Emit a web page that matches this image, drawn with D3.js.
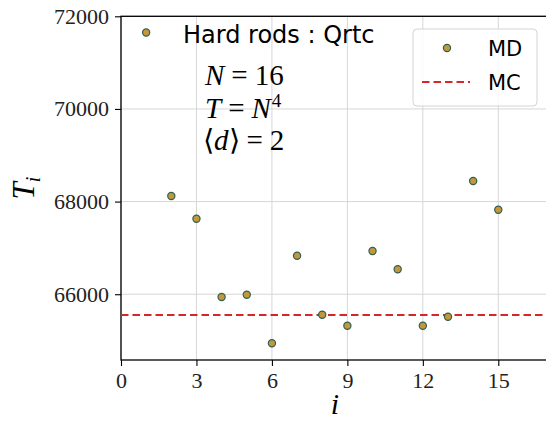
<!DOCTYPE html>
<html><head><meta charset="utf-8">
<script src="https://cdn.jsdelivr.net/npm/d3@7"></script>
<style>body{margin:0;background:#fff}svg{display:block}</style>
</head><body>
<script>
const idx = [1,2,3,4,5,6,7,8,9,10,11,12,13,14,15];
const mdValues = [71650,68120,67630,65940,65990,64940,66830,65558,65320,66933,66538,65320,65515,68444,67825];
const mcValue = 65551;
const xTicks = [0,3,6,9,12,15];
const yTicks = [66000,68000,70000,72000];
const titleText = "Hard rods : Qrtc";
const legendLabels = ["MD","MC"];

const W=546,H=425;
const L=121,T=16.3,R=548.6,B=360;
const svg=d3.select("body").append("svg").attr("width",W).attr("height",H);
const x=d3.scaleLinear().domain([0,17]).range([L,R]);
const y=d3.scaleLinear().domain([64580,72000]).range([B,T]);

const serif="'Liberation Serif','Times New Roman',serif";
const sans="'DejaVu Sans',sans-serif";

// grid
const g=svg.append("g");
g.selectAll(".vg").data(xTicks).join("line").attr("x1",d=>x(d)).attr("x2",d=>x(d)).attr("y1",T).attr("y2",B).attr("stroke","#d6d6d6").attr("stroke-width",1);
g.selectAll(".hg").data(yTicks).join("line").attr("x1",L).attr("x2",R).attr("y1",d=>y(d)).attr("y2",d=>y(d)).attr("stroke","#d6d6d6").attr("stroke-width",1);

// axes
const xAxis=svg.append("g").attr("transform",`translate(0,${B})`).call(d3.axisBottom(x).tickValues(xTicks).tickSize(6).tickPadding(6).tickFormat(d3.format("d")));
const yAxis=svg.append("g").attr("transform",`translate(${L},0)`).call(d3.axisLeft(y).tickValues(yTicks).tickSize(6).tickPadding(6).tickFormat(d=>String(d)));
[xAxis,yAxis].forEach(a=>{a.select(".domain").remove();a.selectAll("line").attr("stroke","#000").attr("stroke-width",1.1);a.selectAll("text").attr("font-family",serif).attr("font-size",22).attr("fill","#222");});
// spines
svg.append("rect").attr("x",L).attr("y",T).attr("width",R-L).attr("height",B-T).attr("fill","none").attr("stroke","#000").attr("stroke-width",1.3);

// MC line
svg.append("line").attr("x1",L).attr("x2",R).attr("y1",y(mcValue)).attr("y2",y(mcValue)).attr("stroke","#d62728").attr("stroke-width",2).attr("stroke-dasharray","7.5,4");

// points
svg.selectAll(".pt").data(idx).join("circle").attr("cx",d=>x(d)).attr("cy",(d,i)=>y(mdValues[i])).attr("r",3.6).attr("fill","#c4983a").attr("stroke","#2f6050").attr("stroke-width",1.2);

// title text
svg.append("text").attr("x",183).attr("y",43).attr("font-family",sans).attr("font-size",24).attr("fill","#000").text(titleText);

// math text
const mt=svg.append("g").attr("font-family",serif).attr("font-size",29).attr("fill","#000");
const t1=mt.append("text").attr("x",205).attr("y",85);
t1.append("tspan").attr("font-style","italic").text("N");
t1.append("tspan").attr("dx",7).text("=");
t1.append("tspan").attr("dx",7).text("16");
const t2=mt.append("text").attr("x",205).attr("y",118);
t2.append("tspan").attr("font-style","italic").text("T");
t2.append("tspan").attr("dx",7).text("=");
t2.append("tspan").attr("dx",7).attr("font-style","italic").text("N");
t2.append("tspan").attr("font-size",19).attr("dy",-11).attr("dx",1).text("4");
const t3=mt.append("text").attr("x",203).attr("y",150);
t3.append("tspan").text("\u27E8");
t3.append("tspan").attr("font-style","italic").text("d");
t3.append("tspan").text("\u27E9");
t3.append("tspan").attr("dx",7).text("=");
t3.append("tspan").attr("dx",7).text("2");

// legend
const lg=svg.append("g");
lg.append("rect").attr("x",413).attr("y",29).attr("width",124).attr("height",77).attr("rx",4).attr("fill","#fff").attr("fill-opacity",0.85).attr("stroke","#d4d4d4").attr("stroke-width",1);
lg.append("circle").attr("cx",447).attr("cy",48).attr("r",3.6).attr("fill","#c4983a").attr("stroke","#2f6050").attr("stroke-width",1.2);
lg.append("line").attr("x1",422).attr("x2",470).attr("y1",82).attr("y2",82).attr("stroke","#d62728").attr("stroke-width",2).attr("stroke-dasharray","7.5,4");
lg.selectAll(".lt").data(legendLabels).join("text").attr("x",488).attr("y",(d,i)=>56+i*34).attr("font-family",sans).attr("font-size",21).attr("fill","#000").text(d=>d);

// axis labels
svg.append("text").attr("x",x(8.5)).attr("y",414).attr("text-anchor","middle").attr("font-family",serif).attr("font-style","italic").attr("font-size",30).text("i");
const yl=svg.append("text").attr("transform",`translate(34,${(T+B)/2}) rotate(-90)`).attr("text-anchor","middle").attr("font-family",serif).attr("font-size",31);
yl.append("tspan").attr("font-style","italic").text("T");
yl.append("tspan").attr("font-style","italic").attr("font-size",20).attr("dy",6).text("i");
</script>
</body></html>
